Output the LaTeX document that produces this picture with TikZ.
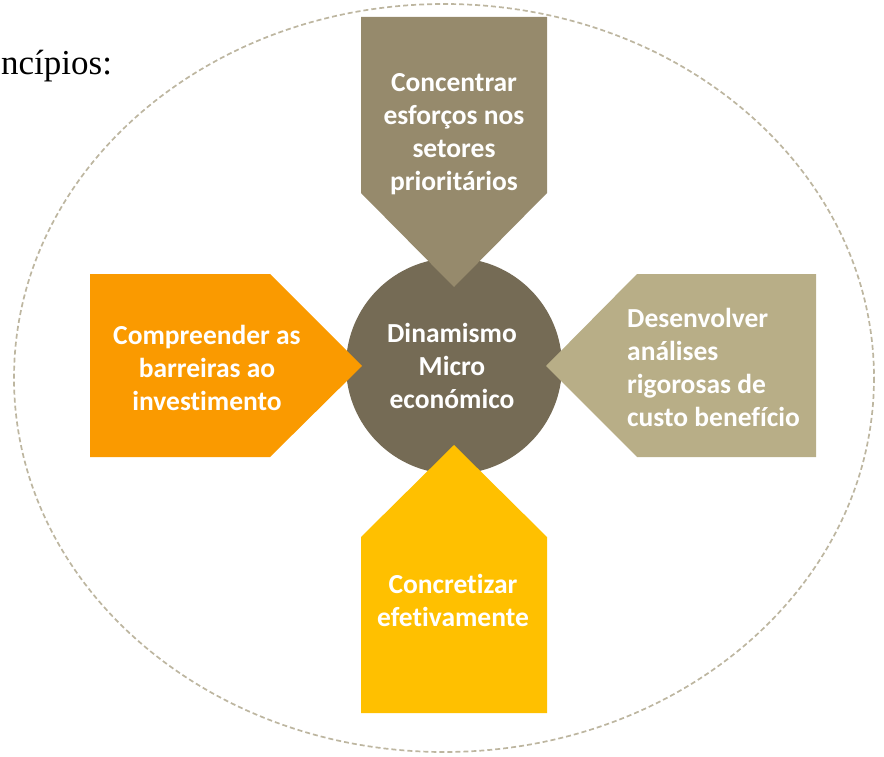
\documentclass[tikz,border=0pt]{standalone}
\usepackage{fontspec}
\setmainfont{Liberation Serif}
\newfontfamily\calfont[Ligatures=CommonOff]{Carlito}
\definecolor{ellc}{HTML}{BDB6A0}
\definecolor{hubc}{HTML}{756B55}
\definecolor{topc}{HTML}{968A6C}
\definecolor{leftc}{HTML}{FA9A00}
\definecolor{rightc}{HTML}{B8AE87}
\definecolor{botc}{HTML}{FFC000}
\tikzset{
  lbl/.style={text=white, font=\calfont\bfseries\fontsize{27.5}{33}\selectfont, inner sep=0pt},
}
\begin{document}
\begin{tikzpicture}[x=1pt,y=-1pt]
\useasboundingbox (0,0) rectangle (884,757);
% outer dashed ellipse
\draw[ellc, line width=1.7pt, dash pattern=on 5pt off 3pt] (444,378) ellipse [x radius=430, y radius=374];
% heading fragment
\node[anchor=base west, inner sep=0pt, font=\fontsize{35}{42}\selectfont] (head) at (1,75) {ncípios:};
% hub
\fill[hubc] (454,366) circle [radius=108];
% arrows
\fill[topc] (361,17) -- (547,17) -- (547,193) -- (454,287) -- (361,193) -- cycle;
\fill[leftc] (90,274) -- (270,274) -- (362,366) -- (270,457) -- (90,457) -- cycle;
\fill[rightc] (816,274) -- (637,274) -- (546,366) -- (637,457) -- (816,457) -- cycle;
\fill[botc] (361,713) -- (547,713) -- (547,537) -- (454,445) -- (361,537) -- cycle;
% labels
\node[lbl, align=center] (hub) at (452,366) {Dinamismo\\Micro\\económico};
\node[lbl, align=center] (top) at (454,134) {Concentrar\\esforços nos\\setores\\prioritários};
\node[lbl, align=center] (left) at (207,368) {Compreender as\\barreiras ao\\investimento};
\node[lbl, align=left, anchor=west] (right) at (627,367) {Desenvolver\\análises\\rigorosas de\\custo benefício};
\node[lbl, align=center] (bot) at (453,600) {Concretizar\\efetivamente};
\end{tikzpicture}
\end{document}
